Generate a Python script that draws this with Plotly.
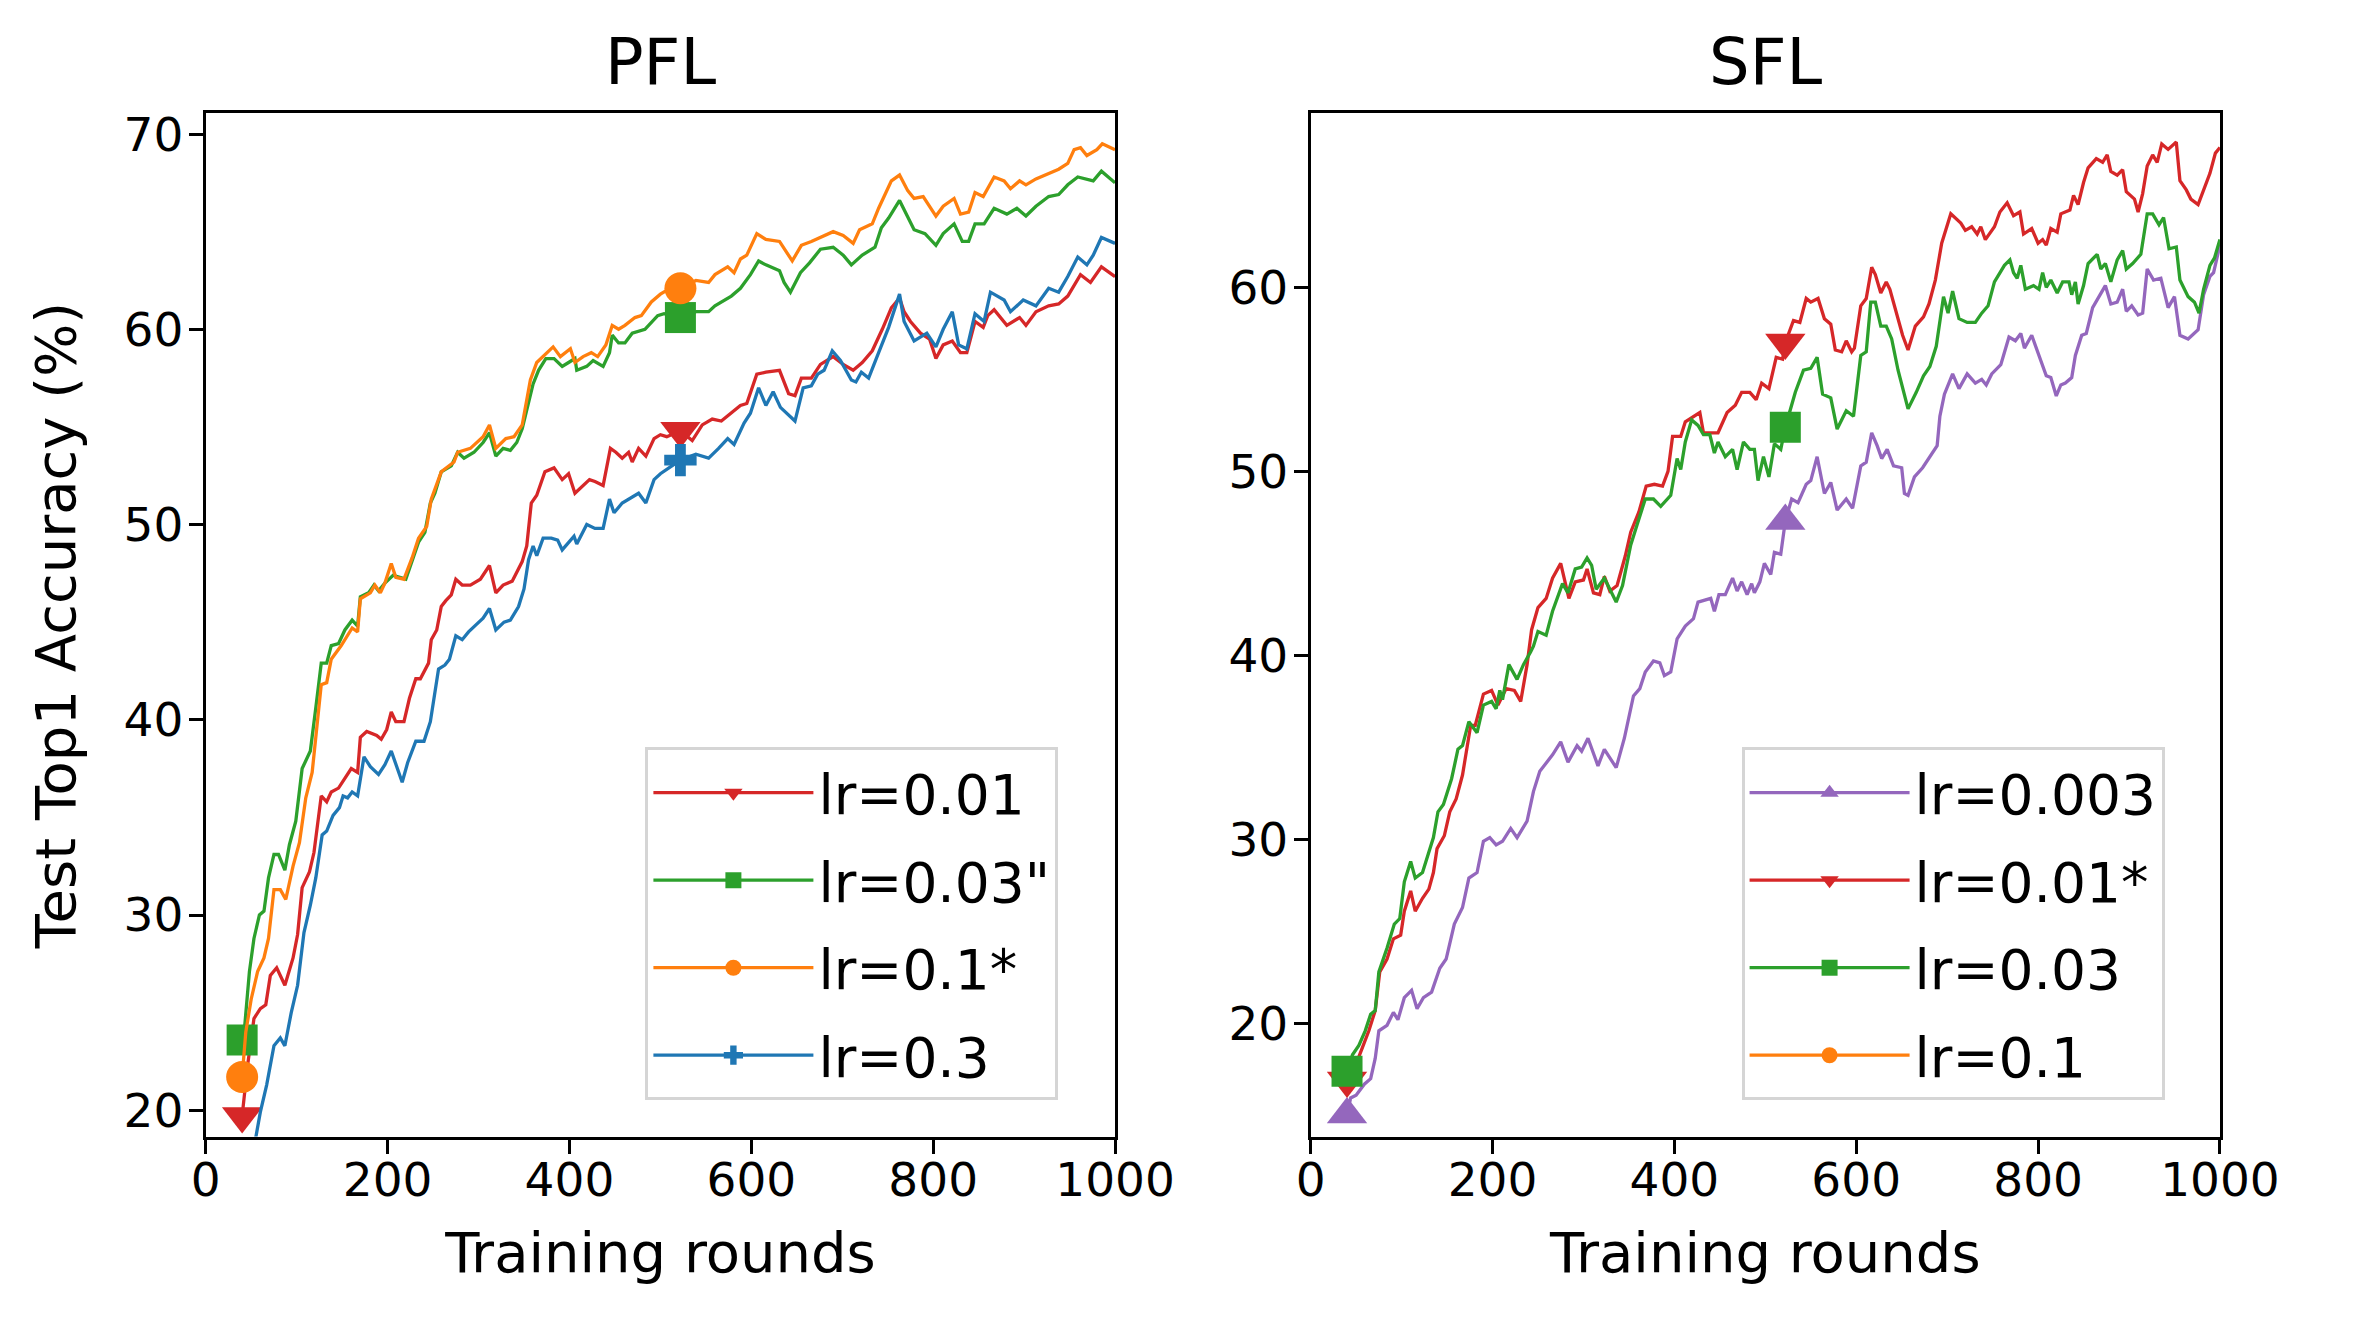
import plotly.graph_objects as go

# ---------------- DATA ----------------
# PFL panel
pfl_r01_x = [40,46,53,60,66,71,78,87,96,101,106,114,119,127,133,138,146,153,160,167,170,177,188,193,199,204,209,218,224,231,236,245,248,254,259,264,270,275,282,291,302,312,319,327,337,348,353,358,364,373,383,392,399,406,415,422,428,437,445,451,458,465,469,476,484,493,500,507,522,535,546,557,567,578,588,595,606,616,631,641,648,655,666,676,690,701,712,722,733,744,754,763,768,775,786,796,803,811,821,830,837,846,855,860,867,881,895,902,913,927,938,948,962,973,985,1000]
pfl_r01_y = [19.7,22.3,24.7,25.2,25.4,26.9,27.3,26.4,27.8,29.0,31.4,32.2,33.2,36.1,35.8,36.3,36.5,37.0,37.5,37.3,39.1,39.4,39.2,39.0,39.5,40.4,39.9,39.9,41.1,42.1,42.1,42.9,44.1,44.6,45.8,46.1,46.4,47.2,46.9,46.9,47.2,47.9,46.5,46.9,47.1,48.1,48.9,51.1,51.5,52.7,52.9,52.3,52.6,51.6,52.0,52.3,52.2,52.0,53.9,53.7,53.4,53.7,53.2,53.9,53.5,54.4,54.6,54.5,54.8,54.3,55.1,55.4,55.3,55.7,56.1,56.2,57.7,57.8,57.9,56.7,56.6,57.5,57.5,58.2,58.6,58.2,57.9,58.3,58.9,60.0,61.1,61.6,60.9,60.4,59.8,59.5,58.5,59.2,59.4,58.8,58.8,60.4,60.1,60.7,61.0,60.2,60.6,60.2,60.9,61.2,61.3,61.7,62.8,62.4,63.2,62.7]

pfl_r03_x = [40,43,48,53,59,64,69,75,80,87,92,99,106,115,121,127,133,138,146,153,161,167,170,179,185,190,197,206,220,227,234,241,247,252,259,270,277,284,295,305,312,319,327,335,342,348,355,360,366,374,383,392,399,406,408,419,426,437,444,447,454,461,469,483,497,504,522,539,553,560,578,588,599,608,616,631,636,643,654,664,676,690,701,710,722,736,743,751,763,772,779,791,803,811,823,832,839,846,856,867,881,892,902,913,927,938,948,959,966,976,985,1000]
pfl_r03_y = [23.6,24.4,27.1,28.8,30.0,30.2,31.9,33.1,33.1,32.3,33.6,34.8,37.5,38.4,40.6,42.9,42.9,43.8,43.9,44.6,45.1,44.8,46.3,46.5,46.9,46.6,47.0,47.4,47.2,48.2,49.1,49.6,51.1,51.6,52.7,53.0,53.7,53.4,53.7,54.2,54.7,53.5,53.9,53.8,54.2,54.9,56.2,57.2,57.9,58.5,58.5,58.1,58.3,58.5,57.9,58.1,58.4,58.1,58.8,59.7,59.3,59.3,59.8,60.0,60.7,60.8,60.6,60.9,60.9,61.2,61.7,62.1,62.8,63.5,63.3,63.0,62.4,61.9,62.9,63.4,64.1,64.2,63.8,63.3,63.8,64.2,65.2,65.7,66.6,65.8,65.1,64.9,64.3,64.9,65.4,64.5,64.5,65.4,65.4,66.2,65.9,66.2,65.8,66.3,66.8,66.9,67.4,67.8,67.7,67.6,68.1,67.5]

pfl_r1_x = [40,44,50,57,64,69,75,82,88,96,103,110,117,122,127,133,138,149,156,161,167,170,181,186,192,197,204,209,218,227,234,243,248,259,273,277,291,305,312,319,330,339,348,357,364,373,382,390,401,406,415,424,431,440,447,454,461,472,479,490,500,507,522,539,553,560,574,581,588,595,606,616,631,645,655,666,676,690,701,712,719,733,740,754,763,772,779,789,803,811,823,830,839,846,855,860,867,878,885,895,902,913,927,938,948,955,962,969,980,986,1000]
pfl_r1_y = [21.7,24.0,25.7,27.1,27.8,28.8,31.3,31.3,30.8,32.5,33.7,36.0,37.3,39.4,41.8,41.9,43.1,43.8,44.3,44.7,44.5,46.2,46.5,46.9,46.5,47.0,48.0,47.3,47.2,48.3,49.3,49.9,51.3,52.7,53.2,53.7,53.9,54.5,55.1,53.9,54.4,54.5,55.1,57.4,58.3,58.7,59.1,58.6,59.0,58.3,58.6,58.8,58.6,59.2,60.2,60.0,60.2,60.6,60.7,61.4,61.8,62.0,62.1,62.5,62.4,62.8,63.2,62.9,63.6,63.8,64.9,64.6,64.5,63.5,64.3,64.5,64.7,65.0,64.8,64.4,65.1,65.4,66.2,67.6,67.9,67.1,66.7,66.8,65.8,66.3,66.7,65.9,66.0,67.0,66.8,67.2,67.8,67.6,67.2,67.6,67.4,67.7,68.0,68.2,68.5,69.2,69.3,68.9,69.2,69.5,69.2]

pfl_r3_x = [40,55,60,67,75,82,87,94,101,108,115,121,128,133,140,147,151,156,161,167,174,181,190,197,204,209,216,222,231,240,247,256,263,268,275,282,289,298,305,312,319,328,335,344,350,355,360,364,371,380,387,392,399,405,408,419,428,437,444,449,458,465,476,484,493,500,522,539,553,564,574,581,592,599,608,616,624,632,648,657,666,673,680,689,698,710,715,721,729,740,751,763,768,779,793,803,811,821,828,837,846,856,863,878,885,899,913,927,938,948,959,969,976,985,1000]
pfl_r3_y = [16.0,18.6,19.9,21.3,23.3,23.7,23.3,25.0,26.4,29.1,30.5,31.9,34.1,34.3,35.1,35.5,36.1,36.0,36.3,36.1,38.1,37.6,37.2,37.7,38.4,37.7,36.8,37.8,38.9,38.9,39.9,42.6,42.8,43.1,44.3,44.1,44.5,44.9,45.2,45.7,44.6,45.0,45.1,45.8,46.7,48.2,48.9,48.4,49.3,49.3,49.2,48.7,49.1,49.4,49.0,50.0,49.8,49.8,51.3,50.6,51.1,51.3,51.6,51.1,52.3,52.6,53.3,53.6,53.4,53.9,54.4,54.1,55.2,55.7,57.0,56.1,56.8,56.0,55.3,57.0,57.1,57.7,57.9,58.9,58.4,57.4,57.3,57.8,57.5,58.8,60.1,61.8,60.4,59.4,59.8,59.1,60.0,60.9,59.2,59.0,60.8,60.4,61.9,61.5,60.9,61.5,61.2,62.1,61.9,62.7,63.7,63.3,63.8,64.7,64.4]

# SFL panel
sfl_r003_x = [40,44,50,59,66,71,75,84,91,96,103,111,117,124,133,142,149,158,167,174,183,190,197,204,211,220,227,238,245,252,266,275,283,293,298,305,316,323,336,345,355,362,368,377,384,389,396,403,412,421,426,440,444,449,456,464,469,474,480,485,488,494,499,506,510,517,522,529,536,545,550,557,565,572,579,589,596,605,611,617,623,628,634,641,650,653,657,664,673,681,689,692,697,706,713,722,731,738,743,749,759,768,775,781,785,793,804,809,814,820,825,830,837,841,848,853,860,867,874,880,887,893,897,903,910,915,920,927,935,943,950,956,965,976,982,989,993,1000]
sfl_r003_y = [15.05,15.95,16.1,16.7,17.0,18.1,19.6,19.9,20.6,20.2,21.4,21.8,20.8,21.4,21.7,23.0,23.5,25.4,26.3,27.9,28.2,29.9,30.1,29.7,29.9,30.6,30.1,31.0,32.6,33.7,34.6,35.3,34.2,35.1,34.8,35.5,34.0,34.9,33.9,35.5,37.8,38.2,39.1,39.7,39.6,38.9,39.1,40.9,41.6,42.0,42.9,43.1,42.4,43.3,43.3,44.2,43.5,44.0,43.3,43.9,43.4,44.0,45.0,44.4,45.6,45.5,47.3,48.5,48.3,49.3,49.5,50.8,48.8,49.4,47.9,48.5,48.0,50.3,50.5,52.1,51.4,50.7,51.2,50.3,50.2,48.8,48.7,49.7,50.2,50.8,51.4,53.0,54.2,55.3,54.5,55.3,54.8,55.0,54.7,55.3,55.8,57.3,57.1,57.5,56.7,57.4,55.9,55.2,55.1,54.1,54.7,54.8,55.1,56.3,57.4,57.5,58.9,59.5,60.1,59.1,59.2,59.9,58.7,59.0,58.5,58.6,61.0,60.4,60.5,58.9,59.5,57.4,57.2,57.7,59.6,60.6,60.8,62.3]

sfl_r01_x = [40,50,57,64,71,76,84,91,99,103,110,115,123,130,135,139,147,153,160,167,176,181,190,199,206,215,224,231,238,243,250,259,266,275,284,291,300,304,311,318,323,329,337,346,352,361,369,378,387,393,398,407,412,419,428,432,439,448,458,467,474,483,490,496,504,512,519,522,531,538,545,550,558,565,572,577,584,589,595,598,605,611,617,621,627,633,637,646,651,657,665,674,680,687,694,704,715,720,727,733,737,742,752,758,766,773,780,784,793,800,805,809,814,821,825,835,839,844,850,855,864,871,876,880,887,893,897,906,910,915,920,926,931,936,943,952,956,963,968,976,982,989,995,1000]
sfl_r01_y = [16.9,17.8,18.7,19.6,20.7,22.8,23.5,24.6,24.8,26.1,27.2,26.1,26.8,27.3,28.2,29.5,30.2,31.5,32.2,33.5,36.2,36.2,37.9,38.1,37.3,38.2,38.1,37.5,39.5,41.4,42.6,43.1,44.2,45.0,43.1,44.0,44.1,44.7,43.4,43.3,44.3,43.5,43.8,45.4,46.7,47.8,49.2,49.3,49.2,50.0,51.9,51.9,52.7,52.9,53.2,52.1,52.1,52.1,53.2,53.6,54.3,54.3,53.9,54.8,54.5,56.2,56.1,57.0,58.2,58.1,59.4,59.2,59.4,58.3,58.0,56.6,56.5,57.1,56.5,56.7,59.0,59.4,61.1,60.7,59.7,60.3,59.9,58.2,57.4,56.6,57.9,58.4,59.1,60.4,62.4,64.0,63.5,63.1,63.3,62.9,63.3,62.6,63.3,64.1,64.6,63.9,64.1,62.9,63.2,62.4,62.6,62.3,63.2,63.0,64.0,64.2,65.0,64.5,65.7,66.5,67.0,66.8,67.2,66.3,66.1,66.4,65.2,64.8,64.1,65.1,66.6,67.2,66.8,67.8,67.5,67.9,65.8,65.3,64.8,64.5,65.3,66.2,67.3,67.6]

sfl_r03_x = [40,46,53,60,66,71,75,84,92,98,103,110,115,123,135,140,146,155,162,167,174,183,190,199,204,208,211,218,227,234,242,245,250,259,266,277,283,291,298,304,309,314,323,336,343,352,359,368,377,385,396,403,407,412,419,426,432,439,444,448,456,464,469,476,483,488,492,498,504,510,517,522,533,542,550,557,563,572,579,589,597,605,611,616,621,627,633,639,646,657,666,674,681,688,696,701,706,713,722,731,738,745,752,763,769,773,777,781,786,795,801,805,809,814,821,827,834,837,841,844,850,855,865,869,874,880,887,893,897,904,913,920,926,933,938,944,952,956,965,972,977,982,989,994,1000]
sfl_r03_y = [17.4,18.3,18.8,19.6,20.5,20.7,22.8,24.1,25.4,25.7,27.7,28.8,27.9,28.2,30.1,31.5,31.9,33.3,34.9,35.1,36.4,35.8,37.3,37.5,37.1,38.1,37.6,39.5,38.7,39.5,40.2,40.5,41.3,41.1,42.4,43.9,43.4,44.7,44.8,45.3,44.9,43.6,44.2,42.9,43.8,46.0,47.1,48.5,48.5,48.1,48.7,50.7,50.1,51.6,52.8,52.5,52.0,52.0,51.0,51.6,50.8,51.2,50.1,51.6,51.2,51.2,49.5,50.8,49.7,51.5,51.2,52.4,54.3,55.5,55.6,56.2,54.2,54.0,52.3,53.3,53.0,56.3,56.5,59.2,59.2,57.9,57.9,57.2,55.5,53.4,54.3,55.2,55.7,56.8,59.5,58.6,59.8,58.3,58.1,58.1,58.6,59.0,60.3,61.2,61.5,60.8,60.5,61.2,59.9,60.1,59.9,60.8,60.0,60.4,59.7,60.3,60.3,59.6,60.3,59.1,60.1,61.3,61.8,61.0,61.3,60.3,61.5,62.0,61.0,61.3,61.8,64.0,64.0,63.4,63.8,62.1,62.2,60.4,59.5,59.2,58.6,59.9,61.2,61.6,62.6]

# lr=0.1 in SFL diverged (stays below the visible range)
sfl_r1_x = [40, 522, 1000]
sfl_r1_y = [10.0, 10.0, 10.0]

mark_x = [40, 522]
x_ticks = [0, 200, 400, 600, 800, 1000]
pfl_y_ticks = [20, 30, 40, 50, 60, 70]
sfl_y_ticks = [20, 30, 40, 50, 60]

BLUE, ORANGE, GREEN, RED, PURPLE = "#1f77b4", "#ff7f0e", "#2ca02c", "#d62728", "#9467bd"
FONT = "DejaVu Sans"

pfl_series = [
    ("lr=0.01", pfl_r01_x, pfl_r01_y, RED, "triangle-down", 35),
    ('lr=0.03"', pfl_r03_x, pfl_r03_y, GREEN, "square", 31),
    ("lr=0.1*", pfl_r1_x, pfl_r1_y, ORANGE, "circle", 32),
    ("lr=0.3", pfl_r3_x, pfl_r3_y, BLUE, "cross", 27),
]
sfl_series = [
    ("lr=0.003", sfl_r003_x, sfl_r003_y, PURPLE, "triangle-up", 35),
    ("lr=0.01*", sfl_r01_x, sfl_r01_y, RED, "triangle-down", 35),
    ("lr=0.03", sfl_r03_x, sfl_r03_y, GREEN, "square", 31),
    ("lr=0.1", sfl_r1_x, sfl_r1_y, ORANGE, "circle", 32),
]

fig = go.Figure()
LW = 3.3


def add_panel(series, xa, ya, legend):
    for i, (name, xs, ys, col, sym, msz) in enumerate(series):
        fig.add_trace(go.Scatter(x=xs, y=ys, mode="lines", line=dict(color=col, width=LW),
                                 xaxis=xa, yaxis=ya, showlegend=False, hoverinfo="skip"))
        mx = [x for x in xs if x in mark_x]
        my = [ys[xs.index(x)] for x in mx]
        fig.add_trace(go.Scatter(x=mx, y=my, mode="markers",
                                 marker=dict(color=col, symbol=sym, size=msz, line=dict(width=0)),
                                 xaxis=xa, yaxis=ya, showlegend=False, hoverinfo="skip"))
        fig.add_trace(go.Scatter(x=[None], y=[None], mode="lines+markers", name=name,
                                 line=dict(color=col, width=LW),
                                 marker=dict(color=col, symbol=sym, size=msz, line=dict(width=0)),
                                 xaxis=xa, yaxis=ya, legend=legend, legendgroup=legend + str(i)))


add_panel(pfl_series, "x", "y", "legend")
add_panel(sfl_series, "x2", "y2", "legend2")

W, H = 2370, 1317
axis_common = dict(showline=True, linecolor="black", linewidth=3, mirror=True,
                   ticks="outside", ticklen=14, tickwidth=3, tickcolor="black",
                   showgrid=False, zeroline=False,
                   tickfont=dict(family=FONT, size=47, color="black"))

ydom = [1 - 1136.5 / H, 1 - 107 / H]
legend_common = dict(xanchor="left", yanchor="top", bgcolor="white", bordercolor="#d5d5d5",
                     borderwidth=3, font=dict(family=FONT, size=55, color="black"),
                     tracegroupgap=13, itemwidth=160)
fig.update_layout(
    width=W, height=H, margin=dict(l=0, r=0, t=0, b=0),
    paper_bgcolor="white", plot_bgcolor="white",
    font=dict(family=FONT, color="black"),
    xaxis=dict(domain=[197 / W, 1136 / W], range=[0, 1000], tickvals=x_ticks, anchor="y",
               ticklabelstandoff=-14,
               title=dict(text="Training rounds", font=dict(family=FONT, size=56), standoff=27),
               **axis_common),
    yaxis=dict(domain=ydom, range=[18.65, 71.06], tickvals=pfl_y_ticks, anchor="x",
               ticklabelstandoff=-4,
               title=dict(text="Test Top1 Accuracy (%)", font=dict(family=FONT, size=56), standoff=30),
               **axis_common),
    xaxis2=dict(domain=[1338 / W, 2277 / W], range=[0, 1000], tickvals=x_ticks, anchor="y2",
                ticklabelstandoff=-14,
                title=dict(text="Training rounds", font=dict(family=FONT, size=56), standoff=27),
                **axis_common),
    yaxis2=dict(domain=ydom, range=[13.85, 69.46], tickvals=sfl_y_ticks, anchor="x2",
                ticklabelstandoff=-4,
                **axis_common),
    legend=dict(x=651 / W, y=1 - 745 / H, **legend_common),
    legend2=dict(x=1783 / W, y=1 - 745 / H, **legend_common),
    annotations=[
        dict(text="PFL", xref="x domain", yref="y domain", x=0.5, y=1, xanchor="center",
             yanchor="bottom", yshift=12, showarrow=False, font=dict(family=FONT, size=64)),
        dict(text="SFL", xref="x2 domain", yref="y2 domain", x=0.5, y=1, xanchor="center",
             yanchor="bottom", yshift=12, showarrow=False, font=dict(family=FONT, size=64)),
    ],
)

post = (
    "document.documentElement.style.margin='0';"
    "document.body.style.margin='0';document.body.style.overflow='hidden';"
    "var gd=document.getElementById('{plot_id}');"
    "Plotly.relayout(gd,{width:window.innerWidth,height:window.innerHeight});"
)
fig.write_html("out.html", config={"displayModeBar": False}, post_script=post)
